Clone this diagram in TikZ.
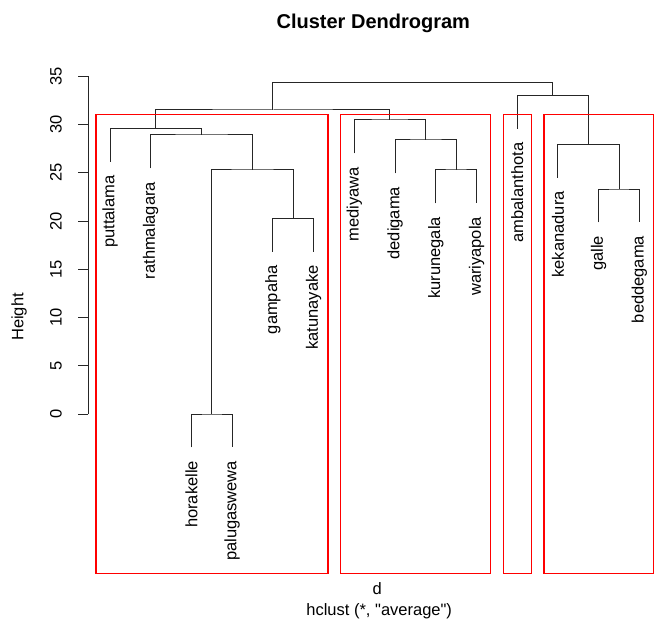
\documentclass[tikz,border=0pt]{standalone}
\usepackage{fontspec}
\setmainfont{Liberation Sans}
\newfontfamily\rawfont{Liberation Sans}[Ligatures=TeXOff]
\begin{document}
\begin{tikzpicture}[x=1bp,y=-1bp,
  dend/.style={draw=black!85, line width=1.0bp},
  clusterbox/.style={draw=red, line width=1.3bp},
  leaflabel/.style={rotate=90, anchor=east, inner sep=0pt, font=\fontsize{16.5bp}{19bp}\selectfont},
  ticklabel/.style={rotate=90, anchor=center, inner sep=0pt, font=\fontsize{16.5bp}{19bp}\selectfont},
  plaintext/.style={inner sep=0pt, font=\fontsize{16.5bp}{19bp}\selectfont}]
\useasboundingbox (0,0) rectangle (657,619);
\fill[white] (0,0) rectangle (657,619);

% title
\node[inner sep=0pt, anchor=base, font=\fontsize{20bp}{24bp}\selectfont\bfseries] (title) at (373.3,29) {Cluster Dendrogram};

% axis
\coordinate (ax0) at (88,414);
\coordinate (ax35) at (88,76.3);
\draw[dend] (ax0) -- (ax35);
\foreach \v [count=\i] in {0,5,10,15,20,25,30,35} {
  \coordinate (t\v) at (88,{414-9.65*\v});
  \coordinate (tl\v) at (78,{414-9.65*\v});
  \draw[dend] (t\v) -- (tl\v);
  \node[ticklabel] (tick\v) at (56,{414-9.65*\v}) {\v};
}
\node[ticklabel] (ylab) at (19,317) {Height};

% leaf ends
\coordinate (l0) at (110.0,161.6);
\coordinate (l1) at (150.7,168.3);
\coordinate (l2) at (191.4,447.3);
\coordinate (l3) at (232.2,447.3);
\coordinate (l4) at (272.9,251.6);
\coordinate (l5) at (313.6,251.6);
\coordinate (l6) at (354.3,153.3);
\coordinate (l7) at (395.0,173.3);
\coordinate (l8) at (435.8,203.3);
\coordinate (l9) at (476.5,203.3);
\coordinate (l10) at (517.2,129.0);
\coordinate (l11) at (557.9,177.6);
\coordinate (l12) at (598.6,222.3);
\coordinate (l13) at (639.4,222.3);

% merges
\coordinate (mA) at (211.8,414);
\coordinate (mB) at (293.25,218.3);
\coordinate (mC) at (252.5,170);
\coordinate (mD) at (201.6,135);
\coordinate (mE) at (155.8,128.3);
\coordinate (mF) at (456.15,170);
\coordinate (mG) at (425.6,140);
\coordinate (mH) at (389.9,120);
\coordinate (mI) at (272.9,110);
\coordinate (mJ) at (619.0,189);
\coordinate (mK) at (588.5,144.3);
\coordinate (mL) at (552.8,95.7);
\coordinate (mM) at (412.9,82.3);

\draw[dend] (l2) |- (mA) -| (l3);
\draw[dend] (l4) |- (mB) -| (l5);
\draw[dend] (mA) |- (mC) -| (mB);
\draw[dend] (l1) |- (mD) -| (mC);
\draw[dend] (l0) |- (mE) -| (mD);
\draw[dend] (l8) |- (mF) -| (l9);
\draw[dend] (l7) |- (mG) -| (mF);
\draw[dend] (l6) |- (mH) -| (mG);
\draw[dend] (mE) |- (mI) -| (mH);
\draw[dend] (l12) |- (mJ) -| (l13);
\draw[dend] (l11) |- (mK) -| (mJ);
\draw[dend] (l10) |- (mL) -| (mK);
\draw[dend] (mI) |- (mM) -| (mL);

% leaf labels
\foreach \i/\name in {0/puttalama,1/rathmalagara,2/horakelle,3/palugaswewa,4/gampaha,5/katunayake,6/mediyawa,7/dedigama,8/kurunegala,9/wariyapola,10/ambalanthota,11/kekanadura,12/galle,13/beddegama} {
  \node[leaflabel] (lab\i) at ([yshift=-13.5bp]l\i) {\name};
}

% cluster boxes
\draw[clusterbox] (96,114.3) rectangle (328,573.7);
\draw[clusterbox] (340.5,114.3) rectangle (490.8,573.7);
\draw[clusterbox] (503.3,114.3) rectangle (531.3,573.7);
\draw[clusterbox] (544,114.3) rectangle (653.7,573.7);

% bottom labels
\node[plaintext, anchor=base] (xlab) at (377.3,594.3) {d};
\node[plaintext, anchor=base] (sub) at (379.2,615) {\rawfont hclust (*, "average")};
\end{tikzpicture}
\end{document}
